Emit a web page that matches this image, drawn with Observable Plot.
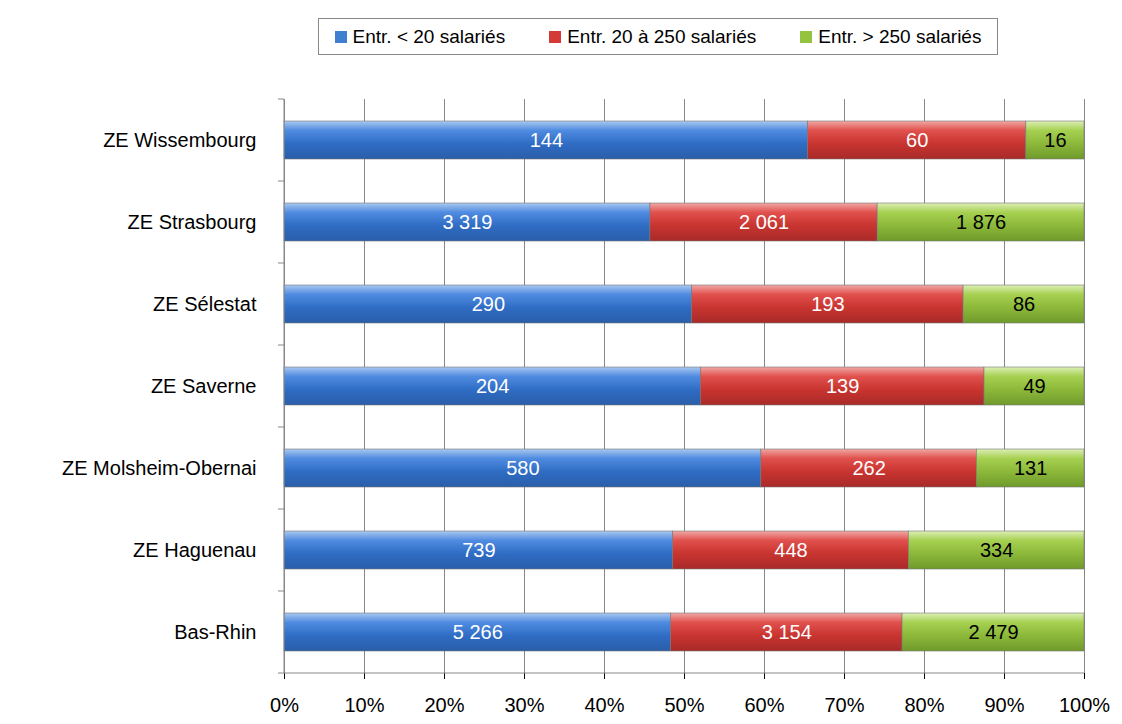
<!DOCTYPE html>
<html><head><meta charset="utf-8">
<script src="https://cdn.jsdelivr.net/npm/d3@7"></script>
<script src="https://cdn.jsdelivr.net/npm/@observablehq/plot@0.6"></script>
<style>
body{margin:0;background:#fff;font-family:"Liberation Sans",Arial,sans-serif;}
#legend{height:70px;position:relative}
#legend .box{position:absolute;left:318px;top:18px;width:680px;height:37px;border:1px solid #888;box-sizing:border-box;display:flex;align-items:center;justify-content:center;gap:44px;font-size:19px}
#legend .sw{display:inline-block;width:12px;height:12px;margin-right:6px;vertical-align:middle}
</style></head><body>
<div id="legend"><div class="box"></div></div>
<div id="chart"></div>
<script>
const categories = ["ZE Wissembourg","ZE Strasbourg","ZE Sélestat","ZE Saverne","ZE Molsheim-Obernai","ZE Haguenau","Bas-Rhin"];
const series = ["Entr. < 20 salariés","Entr. 20 à 250 salariés","Entr. > 250 salariés"];
const small = [144,3319,290,204,580,739,5266];
const medium = [60,2061,193,139,262,448,3154];
const large = [16,1876,86,49,131,334,2479];
const xTicks = [0,0.1,0.2,0.3,0.4,0.5,0.6,0.7,0.8,0.9,1];
const colors = ["url(#gB)","url(#gR)","url(#gG)"];
const swatch = ["#3f7fd0","#d43a36","#94c43f"];
const textColors = ["white","white","black"];

const data = [];
categories.forEach((c,i)=>{[small,medium,large].forEach((arr,j)=>data.push({cat:c,s:series[j],v:arr[i],j}));});
const fmt = v => d3.format(",")(v).replace(/,/g," ");

const box = document.querySelector("#legend .box");
series.forEach((s,j)=>{const sp=document.createElement("span");sp.innerHTML=`<span class="sw" style="background:${swatch[j]}"></span>${s}`;box.appendChild(sp);});

const stack = {x:"v", y:"cat", z:"s", order: series, offset:"normalize"};
const plot = Plot.plot({
  width:1122, height:654, marginLeft:284, marginRight:38, marginTop:29, marginBottom:51,
  style:{fontFamily:"Liberation Sans, Arial, sans-serif", fontSize:"20px", color:"#000", overflow:"visible"},
  x:{domain:[0,1], ticks:xTicks, tickFormat:d=>Math.round(d*100)+"%", tickSize:6, tickPadding:18, label:null},
  y:{domain:categories, paddingInner:0.54, paddingOuter:0.27, label:null, tickSize:0, tickPadding:28},
  marks:[
    Plot.ruleX(xTicks,{stroke:"#888", strokeWidth:1}),
    Plot.barX(data, Plot.stackX({...stack, fill:d=>colors[d.j], stroke:"#777", strokeWidth:0.6})),
    Plot.text(data, Plot.stackX({...stack, text:d=>fmt(d.v), fill:d=>textColors[d.j], fontSize:20}))
  ]
});
document.getElementById("chart").appendChild(plot);
const svg = d3.select(plot);
const defs = svg.insert("defs",":first-child");
function grad(id, stops){const g=defs.append("linearGradient").attr("id",id).attr("x1",0).attr("y1",0).attr("x2",0).attr("y2",1);stops.forEach(([o,c])=>g.append("stop").attr("offset",o).attr("stop-color",c));}
grad("gB",[[0,"#a9c8f0"],[0.25,"#4f8be0"],[0.6,"#2f6cc4"],[1,"#2a5ea8"]]);
grad("gR",[[0,"#f0a8a6"],[0.25,"#e0504c"],[0.6,"#c83430"],[1,"#a82a28"]]);
grad("gG",[[0,"#dcefb6"],[0.25,"#a6d050"],[0.6,"#8cb83a"],[1,"#6f9a2c"]]);
const x0=284, x1=1084;
const g = svg.append("g").attr("stroke","#888");
g.append("line").attr("x1",x0).attr("x2",x1).attr("y1",603).attr("y2",603);
g.append("line").attr("x1",x0).attr("x2",x0).attr("y1",29).attr("y2",603);
for(let i=0;i<=categories.length;i++){const y=29+i*82;g.append("line").attr("x1",x0-6).attr("x2",x0).attr("y1",y).attr("y2",y);}
</script>
</body></html>
